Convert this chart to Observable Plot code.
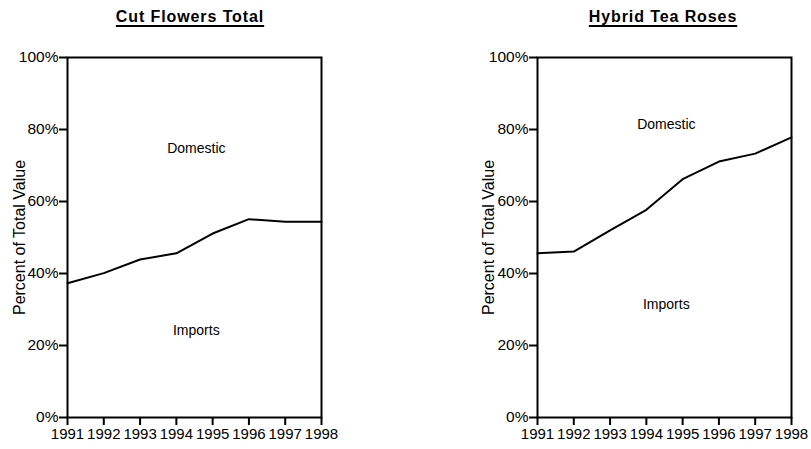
<!DOCTYPE html>
<html><head><meta charset="utf-8">
<script src="https://cdn.jsdelivr.net/npm/d3@7"></script>
<script src="https://cdn.jsdelivr.net/npm/@observablehq/plot@0.6"></script>
<style>
body{margin:0;background:#fff;font-family:Arial,"Liberation Sans",sans-serif}
#wrap{position:relative;width:811px;height:449px;overflow:hidden}
.title{position:absolute;top:8px;font-weight:bold;font-size:16px;letter-spacing:0.9px;line-height:18px;text-decoration:underline;text-decoration-thickness:2px;text-underline-offset:3px;transform:translateX(-50%);white-space:nowrap;color:#000}
.chart{position:absolute;top:30px}
</style></head><body><div id="wrap"></div>
<script>
const years = [1991, 1992, 1993, 1994, 1995, 1996, 1997, 1998];
const titles = ["Cut Flowers Total", "Hybrid Tea Roses"];
const yTicks = [0, 20, 40, 60, 80, 100];
const yLabel = "Percent of Total Value";
// import share of total value (line separates Imports below from Domestic above)
const cutFlowersImports = [37.3, 40.1, 43.9, 45.6, 51.1, 55.1, 54.4, 54.4];
const hybridTeaImports = [45.6, 46.1, 52.0, 57.7, 66.2, 71.1, 73.3, 77.8];
const regionNames = ["Domestic", "Imports"];
const cutFlowersLabelPos = [[1994.55, 74.6], [1994.55, 24.1]];
const hybridTeaLabelPos = [[1994.55, 81.3], [1994.55, 31.3]];

function makeChart(values, labelPos, opts) {
  const data = years.map((y, i) => ({year: y, pct: values[i]}));
  const labels = regionNames.map((n, i) => ({name: n, year: labelPos[i][0], pct: labelPos[i][1]}));
  return Plot.plot({
    width: opts.width,
    height: 419,
    marginLeft: opts.marginLeft,
    marginRight: opts.marginRight,
    marginTop: 27,
    marginBottom: 32,
    style: {fontFamily: "Arial, 'Liberation Sans', sans-serif", fontSize: "15px", color: "#000", background: "#fff", overflow: "visible"},
    x: {domain: [1991, 1998]},
    y: {domain: [0, 100]},
    marks: [
      Plot.axisX({ticks: years, tickFormat: d => String(d), tickSize: 8, tickPadding: 3, label: null, strokeWidth: 2, fontSize: 15}),
      Plot.axisY({ticks: yTicks, tickFormat: d => d + "%", tickSize: 8, tickPadding: 1, label: null, strokeWidth: 2, fontSize: 15.5}),
      Plot.axisY({ticks: [], label: yLabel, labelAnchor: "center", labelArrow: "none", labelOffset: opts.labelOffset, fontSize: 16}),
      Plot.frame({stroke: "#000", strokeWidth: 2}),
      Plot.line(data, {x: "year", y: "pct", stroke: "#000", strokeWidth: 2}),
      Plot.text(labels, {x: "year", y: "pct", text: "name", fontSize: 14, fill: "#000"})
    ]
  });
}

const wrap = document.getElementById("wrap");
const specs = [
  {values: cutFlowersImports, pos: cutFlowersLabelPos, left: 0, width: 405, marginLeft: 67, marginRight: 84, labelOffset: 54, titleX: 190},
  {values: hybridTeaImports, pos: hybridTeaLabelPos, left: 405, width: 406, marginLeft: 132, marginRight: 20, labelOffset: 55, titleX: 663}
];
specs.forEach((s, i) => {
  const t = document.createElement("div");
  t.className = "title";
  t.style.left = s.titleX + "px";
  t.textContent = titles[i];
  wrap.appendChild(t);
  const c = document.createElement("div");
  c.className = "chart";
  c.style.left = s.left + "px";
  c.appendChild(makeChart(s.values, s.pos, s));
  wrap.appendChild(c);
});
</script></body></html>
